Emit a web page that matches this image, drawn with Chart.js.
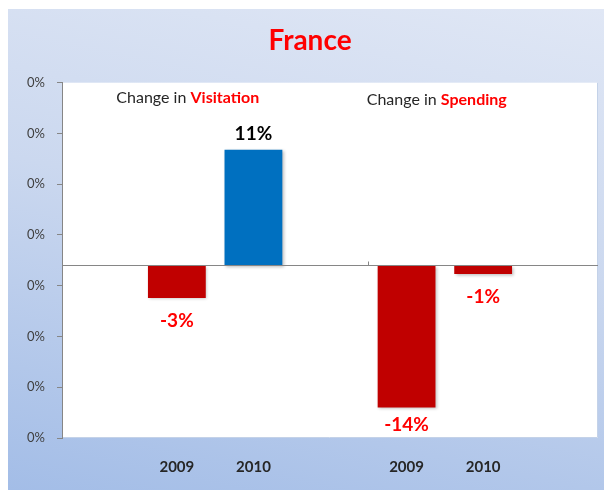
<!DOCTYPE html>
<html>
<head>
<meta charset="utf-8">
<title>France</title>
<script src="https://cdn.jsdelivr.net/npm/chart.js@4.4.1/dist/chart.umd.min.js"></script>
<style>
  html, body { margin: 0; padding: 0; background: #fff; }
  #frame {
    position: absolute; left: 8px; top: 9px; width: 596px; height: 481px;
    background: linear-gradient(192deg, #e0e7f5 0%, #cbd8ef 45%, #a3bde7 100%);
  }
  #myChart { position: absolute; left: 0; top: 0; }
</style>
</head>
<body>
<div id="frame"></div>
<canvas id="myChart" width="604" height="490"></canvas>
<script>
(() => {
  'use strict'

  // Data
  const categories = ['', '2009', '2010', '', '2009', '2010', '']
  const changeValues = [null, -3.2, 11.4, null, -14.0, -0.85, null]
  const yTickLabels = ['0%', '0%', '0%', '0%', '0%', '0%', '0%', '0%']
  const groupLeads = ['Change in ', 'Change in ']
  const groupKeys = ['Visitation', 'Spending']

  const FONT = 'Lato'

  const decorations = {
    id: 'decorations',
    beforeDraw(chart) {
      const { ctx, chartArea: a } = chart
      ctx.save()
      ctx.fillStyle = '#ffffff'
      ctx.fillRect(a.left, a.top, a.right - a.left, a.bottom - a.top)
      ctx.strokeStyle = 'rgba(190, 205, 230, 0.9)'
      ctx.lineWidth = 1
      ctx.beginPath()
      ctx.moveTo(a.right - 0.5, a.top)
      ctx.lineTo(a.right - 0.5, a.bottom - 0.5)
      ctx.lineTo(a.left, a.bottom - 0.5)
      ctx.stroke()
      ctx.restore()
    },
    beforeDatasetDraw(chart) {
      const ctx = chart.ctx
      ctx.save()
      ctx.shadowColor = 'rgba(0, 0, 0, 0.25)'
      ctx.shadowBlur = 3
      ctx.shadowOffsetX = 1.5
      ctx.shadowOffsetY = 1.5
    },
    afterDatasetDraw(chart) {
      chart.ctx.restore()
    },
    afterDatasetsDraw(chart) {
      const { ctx, chartArea: a } = chart
      const x = chart.scales.x
      const y = chart.scales.y
      const zero = Math.round(y.getPixelForValue(0)) + 0.5

      ctx.save()
      // horizontal axis through zero
      ctx.strokeStyle = '#868686'
      ctx.lineWidth = 1
      ctx.beginPath()
      ctx.moveTo(a.left, zero)
      ctx.lineTo(a.right, zero)
      // single tick between the two groups
      const sep = Math.round((x.getPixelForValue(3) + x.getPixelForValue(4)) / 2) + 0.5
      ctx.moveTo(sep, zero)
      ctx.lineTo(sep, zero - 4)
      ctx.stroke()

      // value labels
      ctx.textAlign = 'center'
      ctx.textBaseline = 'middle'
      ctx.font = `bold 19px ${FONT}`
      const meta = chart.getDatasetMeta(0)
      changeValues.forEach((v, i) => {
        if (v === null) return
        const bar = meta.data[i]
        const txt = Math.round(v) + '%'
        let cy
        if (v >= 0) {
          ctx.fillStyle = '#000000'
          cy = bar.y - 16
        } else {
          ctx.fillStyle = '#ff0000'
          cy = Math.min(bar.y + 23, a.bottom - 13)
        }
        ctx.fillText(txt, bar.x, cy)
      })

      // group headings
      const starts = [0.21, 3.48]
      const tops = [15, 17]
      ctx.textAlign = 'left'
      groupLeads.forEach((lead, i) => {
        let px = x.getPixelForValue(starts[i])
        const py = a.top + tops[i]
        ctx.font = `16px ${FONT}`
        ctx.fillStyle = '#262626'
        ctx.fillText(lead, px, py)
        px += ctx.measureText(lead).width
        ctx.font = `bold 16px ${FONT}`
        ctx.fillStyle = '#ff0000'
        ctx.fillText(groupKeys[i], px, py)
      })
      ctx.restore()
    }
  }

  const ctx = document.getElementById('myChart')
  // eslint-disable-next-line no-unused-vars
  const myChart = new Chart(ctx, {
    type: 'bar',
    data: {
      labels: categories,
      datasets: [{
        label: 'Change',
        data: changeValues,
        backgroundColor: (c) => (c.raw < 0 ? '#c00000' : '#0070c0'),
        borderWidth: 0,
        barPercentage: 0.755,
        categoryPercentage: 1
      }]
    },
    options: {
      responsive: false,
      animation: false,
      layout: {
        padding: { left: 22, right: 6, top: 0, bottom: 0 }
      },
      plugins: {
        legend: { display: false },
        tooltip: { enabled: false },
        title: {
          display: true,
          text: 'France',
          color: '#ff0000',
          font: { family: FONT, size: 28, weight: 'bold' },
          padding: { top: 24.2, bottom: 24.9 }
        }
      },
      scales: {
        x: {
          grid: { display: false, drawTicks: false },
          border: { display: false },
          ticks: {
            padding: 20,
            color: '#262626',
            autoSkip: false,
            maxRotation: 0,
            font: { family: FONT, size: 15, weight: 'bold' }
          },
          afterFit: (s) => { s.height = 52 }
        },
        y: {
          min: -17,
          max: 18,
          grid: { drawOnChartArea: false, drawTicks: true, tickLength: 5, color: '#868686' },
          border: { display: true, color: '#868686' },
          ticks: {
            stepSize: 5,
            padding: 12,
            color: '#404040',
            font: { family: FONT, size: 13 },
            callback: (value, index) => yTickLabels[index]
          },
          afterFit: (s) => { s.width = 40 }
        }
      }
    },
    plugins: [decorations]
  })
})()
</script>
</body>
</html>
